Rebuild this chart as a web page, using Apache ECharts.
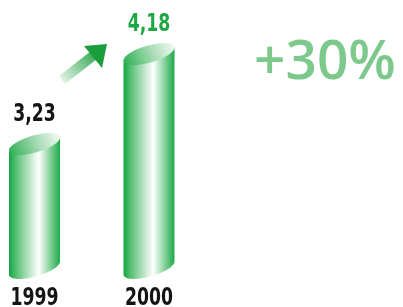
<!DOCTYPE html>
<html>
<head>
<meta charset="utf-8">
<script src="https://cdn.jsdelivr.net/npm/echarts@6/dist/echarts.min.js"></script>
<style>
  html, body { margin: 0; padding: 0; background: #fff; }
  #main { width: 403px; height: 307px; }
</style>
</head>
<body>
<div id="main"></div>
<script>
// data
var years = ['1999', '2000'];
var values = [3.23, 4.18];
var labelColors = ['#141414', '#1ea844'];
var growth = '+30%';

var yMin = 1.92;   // base of the cylinders
var yMax = 4.7;

// no narrow font installed, so squeeze a condensed one a bit
var labelFont = 'bold 24px "DejaVu Sans Condensed", "DejaVu Sans", sans-serif';
var squeeze = 0.8;

// cylinder geometry (tilted ellipses)
var th = -16 * Math.PI / 180;
var ea = 26.4, eb = 8.5;

function pt(cx, cy, t) {
  return [
    cx + ea * Math.cos(t) * Math.cos(th) - eb * Math.sin(t) * Math.sin(th),
    cy + ea * Math.cos(t) * Math.sin(th) + eb * Math.sin(t) * Math.cos(th)
  ];
}
function arc(cx, cy, t1, t2, n) {
  var out = [];
  for (var k = 0; k <= n; k++) out.push(pt(cx, cy, t1 + (t2 - t1) * k / n));
  return out;
}
function label(text, x, y, color) {
  return {
    type: 'text', x: x, y: y, scaleX: squeeze,
    style: { text: text, x: 0, y: 0, align: 'center', verticalAlign: 'middle', fill: color, font: labelFont }
  };
}

var bodyGrad = new echarts.graphic.LinearGradient(0, 0, 1, 0, [
  { offset: 0, color: '#14a443' },
  { offset: 0.12, color: '#4dbd6d' },
  { offset: 0.35, color: '#a9ddb7' },
  { offset: 0.58, color: '#ffffff' },
  { offset: 0.82, color: '#7fcf95' },
  { offset: 1, color: '#1caa48' }
]);
var topGrad = new echarts.graphic.LinearGradient(0, 1, 1, 0, [
  { offset: 0, color: '#2aae50' },
  { offset: 0.55, color: '#a6dbb4' },
  { offset: 1, color: '#f6fcf7' }
]);

var chart = echarts.init(document.getElementById('main'));
chart.setOption({
  animation: false,
  grid: { left: 34.5, right: 254, top: 4.8, bottom: 39 },
  xAxis: {
    type: 'category',
    data: years,
    boundaryGap: false,
    axisLine: { show: false },
    axisTick: { show: false },
    splitLine: { show: false },
    axisLabel: { show: false }   // drawn below the bars by the custom series
  },
  yAxis: { type: 'value', min: yMin, max: yMax, show: false },
  series: [{
    type: 'custom',
    data: values.map(function (v, i) { return [i, v]; }),
    renderItem: function (params, api) {
      var i = params.dataIndex;
      var top = api.coord([api.value(0), api.value(1)]);
      var base = api.coord([api.value(0), yMin]);
      var t0 = Math.atan2(-eb * Math.sin(th), ea * Math.cos(th));
      var body = [pt(top[0], top[1], t0)]
        .concat(arc(base[0], base[1], t0, t0 + Math.PI, 40))
        .concat([pt(top[0], top[1], t0 + Math.PI)]);
      var v = String(api.value(1)).replace('.', ',');
      return {
        type: 'group',
        children: [
          { type: 'polygon', shape: { points: body }, style: { fill: bodyGrad } },
          { type: 'polygon', shape: { points: arc(top[0], top[1], 0, Math.PI * 2, 60) }, style: { fill: topGrad } },
          label(v, top[0], top[1] - 29, labelColors[i]),
          label(years[i], base[0], base[1] + 31, '#141414')
        ]
      };
    }
  }],
  graphic: [
    // arrow shaft, fading out to the lower left
    {
      type: 'polygon',
      shape: { points: [[65, 84], [59, 76], [91, 51], [97, 59]] },
      style: {
        fill: new echarts.graphic.LinearGradient(0, 1, 1, 0, [
          { offset: 0, color: 'rgba(30,160,64,0.05)' },
          { offset: 1, color: 'rgba(30,160,64,0.95)' }
        ])
      }
    },
    // arrow head
    {
      type: 'polygon',
      shape: { points: [[107, 44], [84, 46], [102, 68]] },
      style: { fill: '#1a9e3c' }
    },
    {
      type: 'text',
      left: 254,
      top: 36,
      style: {
        text: growth,
        fill: '#7cc98b',
        font: '600 55px "Open Sans", sans-serif'
      }
    }
  ]
});
</script>
</body>
</html>
